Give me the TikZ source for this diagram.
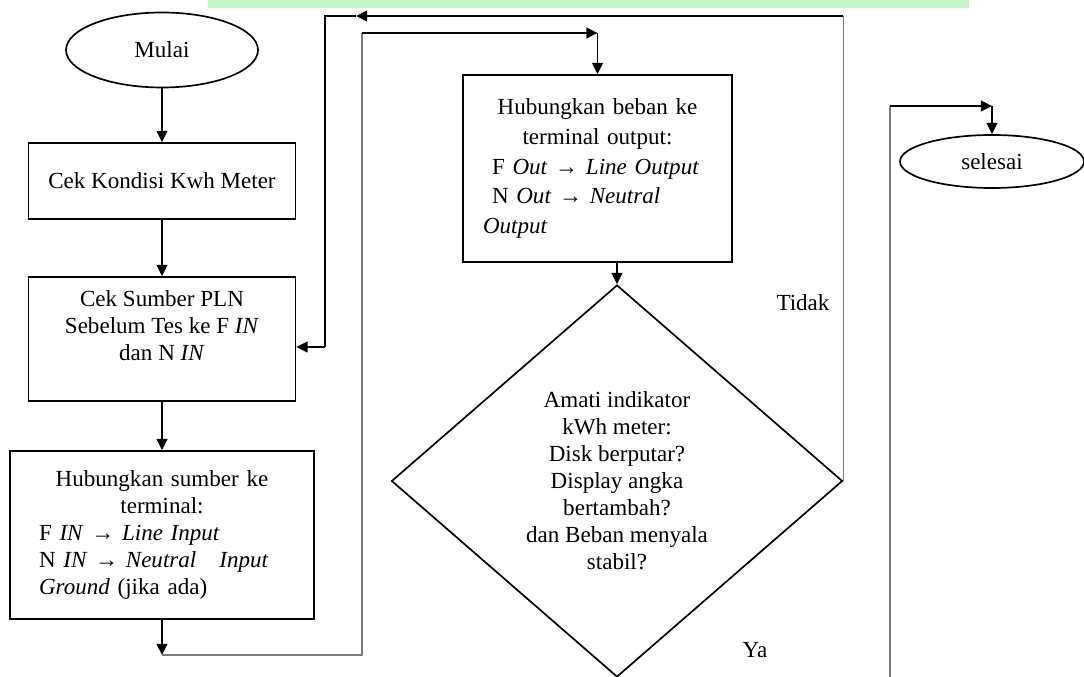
\documentclass[tikz,border=0pt]{standalone}
\usepackage{fontspec}
\setmainfont{Liberation Serif}
\usetikzlibrary{shapes.geometric,arrows.meta}
\definecolor{mywatermark}{HTML}{C8F5C8}
\definecolor{mylinegray}{HTML}{7A7A7A}
\tikzset{
  flowtext/.style={font=\fontsize{16.4pt}{19.2pt}\selectfont},
  flowbox/.style={draw, line width=1.2pt, rectangle, flowtext, inner sep=0pt},
  flowend/.style={draw, line width=1.2pt, ellipse, flowtext, inner sep=0pt},
  flowdec/.style={draw, line width=1.2pt, diamond, flowtext, inner sep=0pt, align=center},
  flowline/.style={line width=1.2pt},
  flowarrow/.style={line width=1.2pt, -{Triangle[length=0.28cm, width=0.27cm]}},
  flowgray/.style={draw=mylinegray}
}

\begin{document}
\begin{tikzpicture}%
\useasboundingbox (0, 0) rectangle (27.1, -16.925);%
\fill[mywatermark] (5.2, 0) rectangle (24.225, -0.2);%
\node[flowend, minimum width=4.8cm, minimum height=1.875cm] (mulai) at (4.05, -1.25) {Mulai};%
\node[flowbox, minimum width=6.675cm, minimum height=1.9cm] (kondisi) at (4.05, -4.525) {Cek Kondisi Kwh Meter};%
\node[flowbox, minimum width=6.675cm, minimum height=3.1cm, align=center] (sumberpln) at (4.05, -8.475) {Cek Sumber PLN\\ Sebelum Tes ke F \textit{IN}\\ dan N \textit{IN}\\ \mbox{}};%
\node[flowbox, minimum width=7.6cm, minimum height=4.2cm, text width=6.15cm, align=left] (sumber) at (4.05, -13.375) {{\centering Hubungkan sumber ke\\ terminal:\par}F \textit{IN} → \textit{Line Input}\\ N \textit{IN} → \textit{Neutral}\quad\textit{Input}\\ \textit{Ground} (jika ada)};%
\node[flowbox, minimum width=6.725cm, minimum height=4.675cm, text width=5.725cm, align=left, font=\fontsize{16.4pt}{21.3pt}\selectfont] (beban) at (14.9375, -4.2125) {{\centering Hubungkan beban ke\\ terminal output:\par}\hspace*{0.225cm}F \textit{Out} → \textit{Line Output}\\ \hspace*{0.225cm}N \textit{Out} → \textit{Neutral}\\ \textit{Output}};%
\node[flowdec, minimum width=11.275cm, minimum height=9.8cm] (amati) at (15.425, -12.025) {Amati indikator\\ kWh meter:\\ Disk berputar?\\ Display angka\\ bertambah?\\ dan Beban menyala\\ stabil?};%
\node[flowend, minimum width=4.6cm, minimum height=1.325cm] (selesai) at (24.8, -4.0375) {selesai};%
\node[flowtext] (tidak) at (20.075, -7.575) {Tidak};%
\node[flowtext] (ya) at (18.875, -16.25) {Ya};%
\coordinate (a1) at (4.05, -16.375);%
\coordinate (a2) at (9.05, -16.375);%
\coordinate (a3) at (9.05, -0.825);%
\coordinate (a4) at (14.9375, -0.825);%
\coordinate (b2) at (8.9, -0.4);%
\coordinate (b3) at (8.125, -0.4);%
\coordinate (b4) at (8.125, -8.675);%
\coordinate (c1) at (22.25, -16.925);%
\coordinate (c2) at (22.25, -2.65);%
\coordinate (c3) at (24.8, -2.65);%
\draw[flowarrow] (mulai) -- (kondisi);%
\draw[flowarrow] (kondisi) -- (sumberpln);%
\draw[flowarrow] (sumberpln) -- (sumber);%
\draw[flowarrow] (sumber) -- (a1);%
\draw[flowline, flowgray] (a1) -- (a2) -- (a3);%
\draw[flowarrow] (a3) -- (a4);%
\draw[flowarrow] (a4) -- (beban);%
\draw[flowarrow] (beban.south -| amati.north) -- (amati.north);%
\draw[flowline, flowgray] (amati.east) -- (amati.east |- b2);%
\draw[flowarrow] (amati.east |- b2) -- (b2);%
\draw[flowline] (b2) -- (b3) -- (b4);%
\draw[flowarrow] (b4) -- (b4 -| sumberpln.east);%
\draw[flowline, flowgray] (c1) -- (c2);%
\draw[flowarrow] (c2) -- (c3);%
\draw[flowarrow] (c3) -- (selesai);%
\end{tikzpicture}
\end{document}
